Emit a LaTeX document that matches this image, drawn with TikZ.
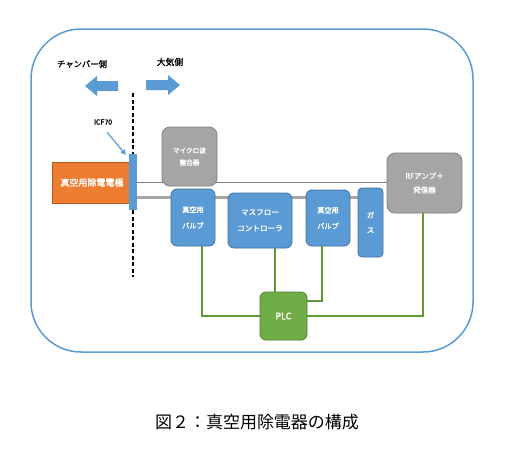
\documentclass[tikz,border=0pt]{standalone}
\usepackage{fontspec}
\setmainfont{Noto Sans CJK JP}[AutoFakeBold=1.6]
\usetikzlibrary{calc,arrows.meta}
\pgfdeclarelayer{bg}
\pgfsetlayers{bg,main}
\definecolor{oblue}{HTML}{5B9BD5}
\definecolor{obluedk}{HTML}{41719C}
\definecolor{oorange}{HTML}{ED7D31}
\definecolor{oorangedk}{HTML}{AE5A21}
\definecolor{ogray}{HTML}{A5A5A5}
\definecolor{ograydk}{HTML}{7F7F7F}
\definecolor{ogreen}{HTML}{70AD47}
\definecolor{ogreendk}{HTML}{507E32}
\definecolor{gline}{HTML}{5E9A34}
\definecolor{thinline}{HTML}{7F7F7F}
\definecolor{thickline}{HTML}{A6A6A6}
\begin{document}
\begin{tikzpicture}[x=1pt,y=-1pt,
  box/.style={draw, line width=0.8pt, rounded corners=6pt, inner sep=0pt, text=white, align=center},
  bluebox/.style={box, fill=oblue, draw=obluedk},
  graybox/.style={box, fill=ogray, draw=ograydk, rounded corners=8pt},
  greenbox/.style={box, fill=ogreen, draw=ogreendk},
  orangebox/.style={box, fill=oorange, draw=oorangedk, rounded corners=0pt},
  lbl/.style={font=\bfseries\fontsize{#1}{#1}\selectfont},
  greenwire/.style={draw=gline, line width=1.6pt},
  blockarrow/.style={fill=oblue}
]
\useasboundingbox (0,0) rectangle (507,448);
\begin{pgfonlayer}{bg}
\fill[white] (0,0) rectangle (507,448);
\end{pgfonlayer}
% outer frame
\draw[oblue, line width=1.5pt, rounded corners=50pt] (31,29) rectangle (473,352);
% side labels
\node[lbl=8.3] (chamber) at (82,64) {チャンバー側};
\node[lbl=8.8] (atmos) at (170,62) {大気側};
% block arrows
\fill[blockarrow] (85,86) -- (97,76) -- (97,81) -- (118,81) -- (118,91) -- (97,91) -- (97,96) -- cycle;
\fill[blockarrow] (180,85) -- (168,75) -- (168,80) -- (146,80) -- (146,90) -- (168,90) -- (168,95) -- cycle;
% nodes
\node[orangebox, minimum width=80pt, minimum height=41pt, lbl=9] (elec) at (92,182.5) {真空用除電電極};
\node[draw=none, fill=oblue, minimum width=8pt, minimum height=56pt, inner sep=0pt] (flange) at (133,182) {};
\node[graybox, minimum width=55pt, minimum height=59pt, font=\bfseries\fontsize{6.6}{12}\selectfont] (mw) at (189.5,156.5) {マイクロ波\\整合器};
\node[graybox, minimum width=75pt, minimum height=60pt, font=\bfseries\fontsize{7.5}{14}\selectfont] (rf) at (424.5,183) {RFアンプ＋\\発信器};
\node[bluebox, minimum width=44pt, minimum height=57pt, font=\bfseries\fontsize{7.2}{16}\selectfont] (v1) at (193,217.5) {真空用\\バルブ};
\node[bluebox, minimum width=64pt, minimum height=55pt, font=\bfseries\fontsize{7.6}{16}\selectfont] (mfc) at (260,220.5) {マスフロー\\コントローラ};
\node[bluebox, minimum width=44pt, minimum height=56pt, font=\bfseries\fontsize{7.2}{16}\selectfont] (v2) at (328,218) {真空用\\バルブ};
\node[bluebox, minimum width=25pt, minimum height=69pt, rounded corners=4pt, font=\bfseries\fontsize{7.5}{15}\selectfont] (gas) at (370.5,222.5) {ガ\\ス};
\node[greenbox, minimum width=47pt, minimum height=48pt, font=\bfseries\fontsize{9}{9}\selectfont] (plc) at (283.5,316) {PLC};
\node[font=\bfseries\fontsize{7}{7}\selectfont] (icf) at (103,122) {ICF70};
% lines behind boxes
\begin{pgfonlayer}{bg}
\draw[line width=1.6pt, dash pattern=on 4pt off 2.5pt] (133,93) -- (133,277);
\draw[thinline, line width=1.6pt] (elec.east) -- (elec.east -| rf.west);
\draw[thickline, line width=3pt] ([yshift=-15pt]flange.east) -- ([yshift=-15pt]flange.east -| gas.west);
\end{pgfonlayer}
% ICF arrow
\draw[oblue, line width=1.2pt, -{Triangle[length=5pt,width=5pt]}] ([xshift=4pt,yshift=-4pt]icf.south) -- ([xshift=-3pt,yshift=-1pt]flange.north west);
% green wires
\draw[greenwire] ([xshift=9pt]v1.south) |- (plc.west);
\draw[greenwire] ([xshift=15pt]mfc.south) -- ([xshift=15pt]mfc.south |- plc.north);
\draw[greenwire] ([xshift=-6pt]v2.south) |- ([yshift=15pt]plc.east);
\draw[greenwire] ([xshift=-1.5pt]rf.south) |- (plc.east);
% caption
\node[font=\fontsize{17}{17}\selectfont] (cap) at (257,422) {図２：真空用除電器の構成};
\end{tikzpicture}
\end{document}
